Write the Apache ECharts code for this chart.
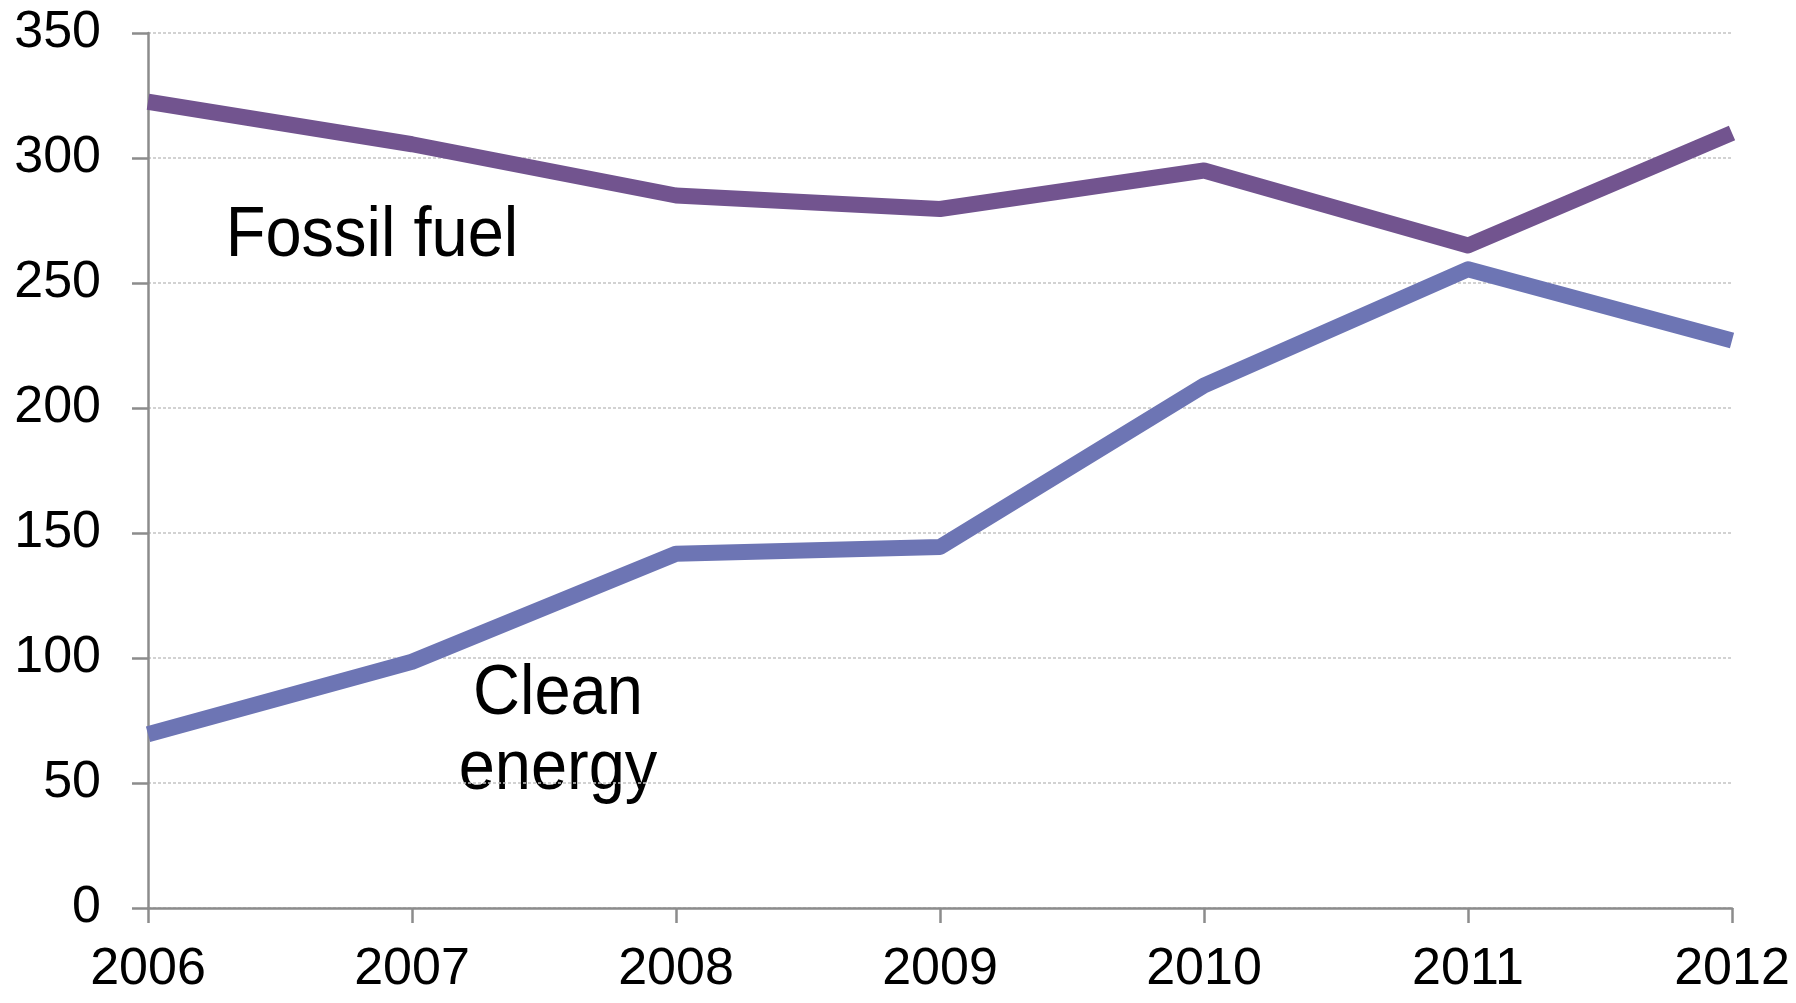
<!DOCTYPE html>
<html>
<head>
<meta charset="utf-8">
<script src="https://cdn.jsdelivr.net/npm/echarts@6/dist/echarts.min.js"></script>
<style>
html,body{margin:0;padding:0;background:#fff;}
#chart{width:1796px;height:1003px;}
</style>
</head>
<body>
<div id="chart"></div>
<script>
const years = ['2006','2007','2008','2009','2010','2011','2012'];
const fossilFuel = [322.5, 305.5, 285, 279.6, 295, 265, 310];
const cleanEnergy = [69.5, 98.5, 141.7, 144.4, 209, 255.5, 227];
const yTicks = {min: 0, max: 350, interval: 50};
const labelFossil = 'Fossil fuel';
const labelClean = 'Clean\nenergy';

const chart = echarts.init(document.getElementById('chart'), null, {renderer: 'canvas'});
const font = "'Liberation Sans', Arial, sans-serif";
chart.setOption({
  animation: false,
  backgroundColor: '#ffffff',
  grid: {left: 148, right: 64, top: 33, bottom: 95, containLabel: false},
  xAxis: {
    type: 'category',
    data: years,
    boundaryGap: false,
    axisLine: {show: true, lineStyle: {color: '#8c8c8c', width: 2.5}},
    axisTick: {show: true, alignWithLabel: true, length: 15, lineStyle: {color: '#8c8c8c', width: 2.5}},
    axisLabel: {color: '#000', fontSize: 52, fontFamily: font, margin: 36},
    splitLine: {show: false}
  },
  yAxis: {
    type: 'value',
    min: yTicks.min, max: yTicks.max, interval: yTicks.interval,
    axisLine: {show: true, lineStyle: {color: '#8c8c8c', width: 2.5}},
    axisTick: {show: true, length: 16, lineStyle: {color: '#8c8c8c', width: 2.5}},
    axisLabel: {color: '#000', fontSize: 52, fontFamily: font, margin: 47},
    splitLine: {show: true, lineStyle: {color: '#c4c4c4', width: 1.5, type: [3, 2]}}
  },
  series: [
    {
      name: 'Fossil fuel', type: 'line', data: fossilFuel,
      symbol: 'none', smooth: false,
      lineStyle: {color: '#72548F', width: 16, join: 'round', cap: 'butt'},
      itemStyle: {color: '#72548F'},
      z: 3
    },
    {
      name: 'Clean energy', type: 'line', data: cleanEnergy,
      symbol: 'none', smooth: false,
      lineStyle: {color: '#6D75B4', width: 16, join: 'round', cap: 'butt'},
      itemStyle: {color: '#6D75B4'},
      z: 2
    }
  ],
  graphic: [
    {type: 'text', x: 372, y: 237, scaleY: 1.08, style: {text: labelFossil, font: "65px 'Liberation Sans', Arial, sans-serif", fill: '#000', textAlign: 'center', textVerticalAlign: 'middle'}},
    {type: 'text', x: 558, y: 732, scaleY: 1.08, style: {text: labelClean, font: "65px 'Liberation Sans', Arial, sans-serif", fill: '#000', textAlign: 'center', textVerticalAlign: 'middle', lineHeight: 70}}
  ]
});
</script>
</body>
</html>
